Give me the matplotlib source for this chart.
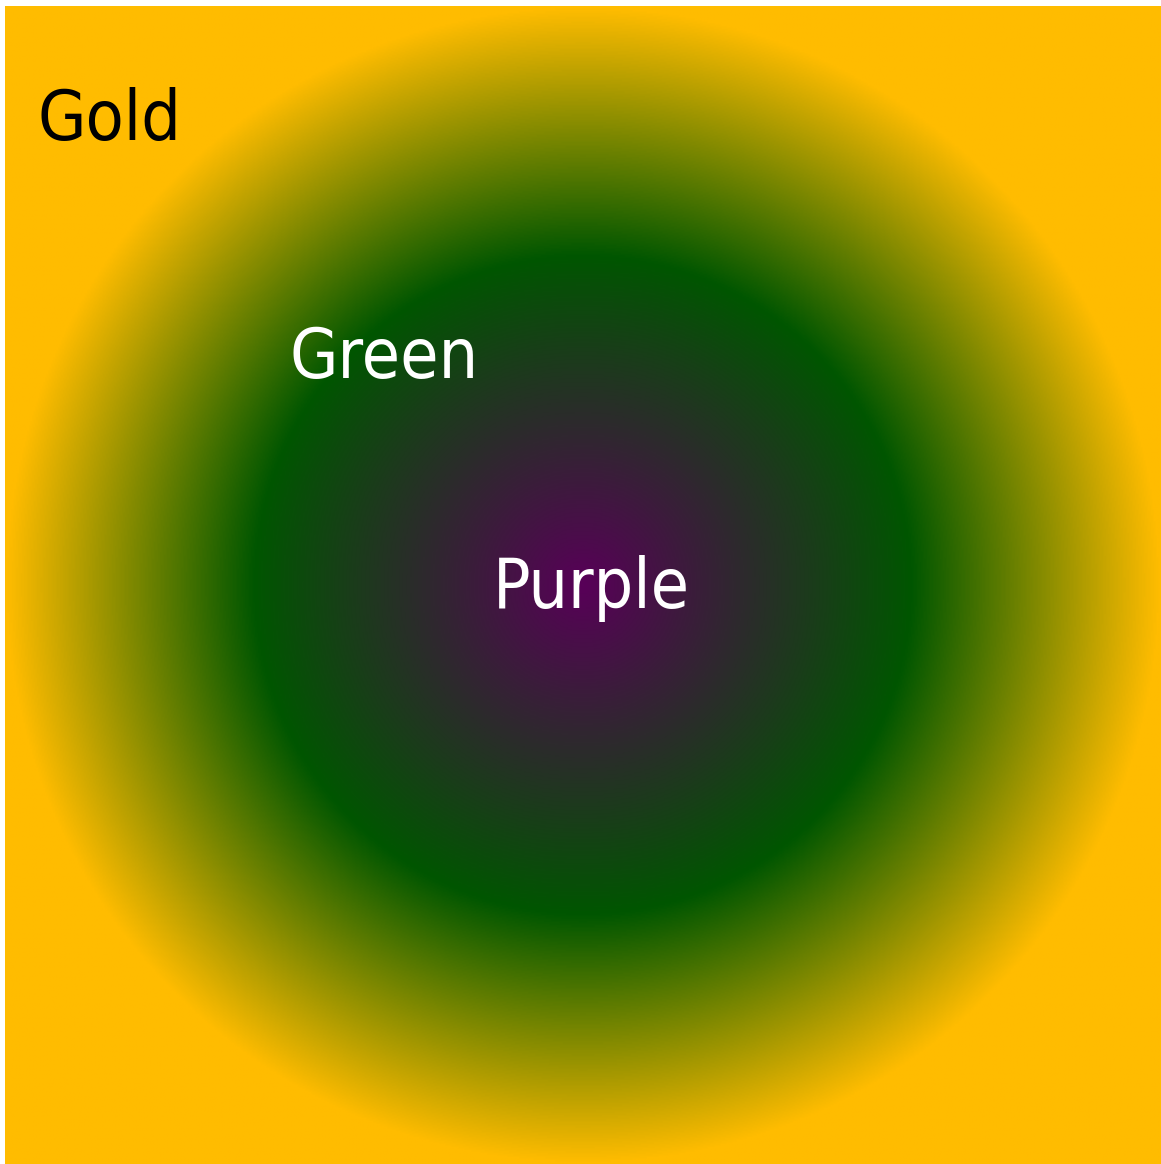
import matplotlib
matplotlib.use("Agg")
import matplotlib.pyplot as plt
from matplotlib import font_manager
from matplotlib.colors import LinearSegmentedColormap
import numpy as np

# radial gradient stops (offset from centre, colour)
stop_offsets = [0.0, 0.57, 1.0]
stop_colors = ['#580058', '#005600', '#ffbc00']

# labels and where they sit (axes fraction, left/baseline)
labels = ['Gold', 'Green', 'Purple']
label_colors = ['black', 'white', 'white']
label_x = [0.028, 0.2465, 0.422]
label_y = [0.884, 0.679, 0.480]

# look for a narrow face if one is installed, else plain Noto Sans
font_kw = dict(family=['Noto Sans'])
for f in font_manager.fontManager.ttflist:
    narrow = ('Narrow' in f.name or 'Condensed' in f.name
              or str(f.stretch) in ('condensed', 'semi-condensed', '600', '700'))
    if narrow and f.style == 'normal' and f.weight in (400, 'normal', 'regular'):
        font_kw = dict(fname=f.fname)
        break

cmap = LinearSegmentedColormap.from_list('radial', list(zip(stop_offsets, stop_colors)))

fig = plt.figure(figsize=(11.61, 11.64), dpi=100)
ax = fig.add_axes([5 / 1161, 0, 1156 / 1161, 1158 / 1164])

n = 800
xs = np.linspace(-1, 1, n)
X, Y = np.meshgrid(xs, xs)
R = np.clip(np.sqrt(X ** 2 + Y ** 2), 0, 1)
ax.imshow(R, cmap=cmap, vmin=0, vmax=1, extent=[0, 1, 0, 1], origin='lower',
          interpolation='bilinear', aspect='auto')
ax.set_xlim(0, 1)
ax.set_ylim(0, 1)
ax.axis('off')

for lab, c, x, y in zip(labels, label_colors, label_x, label_y):
    fp = font_manager.FontProperties(size=50, **font_kw)
    ax.text(x, y, lab, color=c, ha='left', va='baseline', fontproperties=fp,
            transform=ax.transAxes)

fig.savefig('out.png', dpi=100)
